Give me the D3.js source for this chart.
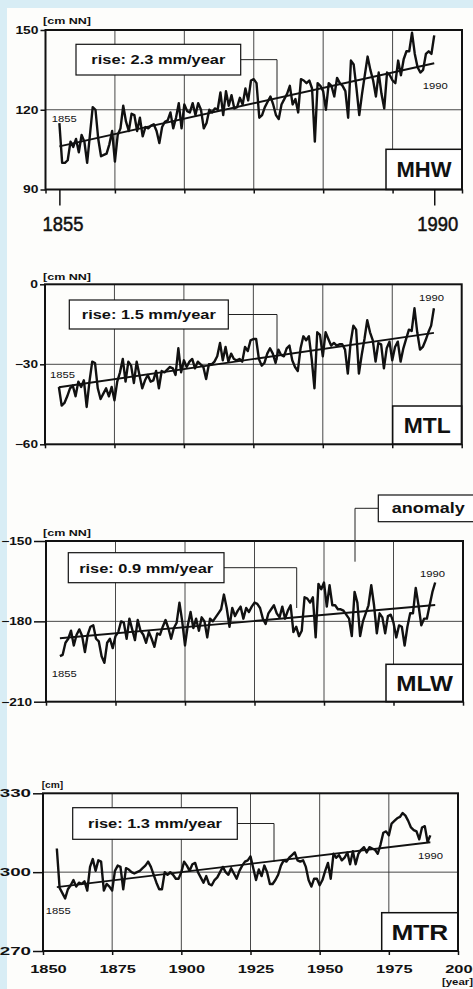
<!DOCTYPE html>
<html>
<head>
<meta charset="utf-8">
<script src="https://cdn.jsdelivr.net/npm/d3@7"></script>
<style>
  body { margin: 0; background: #fff; }
  svg { display: block; font-family: Arial, 'Liberation Sans', Helvetica, sans-serif; }
  .axis text { fill: #111; }
  .axis line { stroke: #111; stroke-width: 1.5; }
</style>
</head>
<body>
<div id="chart-area"></div>
<script>
// Annual values 1855-1990
let years = d3.range(1855, 1991);

let mhw = [
  115, 100, 100, 101, 108, 106, 109, 104, 110.5, 108,        // 1855
  100, 110.5, 121, 120, 109, 102.5, 103, 103.5, 107, 112,    // 1865
  100.5, 110.5, 113, 121.5, 115.5, 112, 118.5, 118, 112, 117, // 1875
  110, 113.5, 113, 114, 114.5, 112, 107.5, 113.5, 115.5, 116, // 1885
  119, 113, 117, 122.5, 113, 122, 119.5, 119, 122.5, 118,    // 1895
  122.5, 120, 113, 115, 120, 119, 120.5, 120, 126.5, 118,    // 1905
  127, 121.5, 125.5, 120.5, 121, 124.5, 122, 128, 123.5, 131, // 1915
  131.5, 130, 117, 118, 121, 123, 125, 122, 118, 116.5,      // 1925
  122, 124, 126, 129, 122, 124, 119, 131.5, 131, 130,        // 1935
  131, 128, 108, 130, 129, 127, 120, 130, 129, 125,          // 1945
  132, 130, 129, 127, 117, 138.5, 137, 128, 118, 126,        // 1955
  133, 140, 135, 131, 125, 134, 126, 120.5, 134, 133,        // 1965
  131, 130, 138.5, 133, 139, 142, 142, 149, 141, 136,        // 1975
  134, 135, 141, 142, 141, 148                               // 1985
];

let mtl = [
  -38.5, -45.5, -44.5, -42, -39, -38, -42, -36.5, -38.5, -36,
  -46, -36.5, -29, -29.5, -39, -43, -41, -39, -42, -38.5,
  -43.5, -36.5, -33, -28, -36.5, -29, -30.5, -37, -29, -34,
  -39, -36, -34, -36.5, -36, -32.5, -39, -32.5, -33, -32,
  -31, -31.5, -34, -24, -33, -28.5, -31, -29, -28, -31.5,
  -29, -30, -31, -35.5, -30, -30, -29, -27, -22, -28.5,
  -23.5, -29, -26, -28, -28.5, -28, -29, -23.5, -25, -21,
  -20.5, -20.5, -28, -30.5, -29.5, -26, -24, -26, -29.5, -24.5,
  -26.5, -27, -24, -23, -28.5, -31, -32.5, -24, -19.5, -21,
  -19.5, -28, -39, -18, -19, -27, -18, -20.5, -23, -22,
  -23, -22.5, -22.5, -24.5, -33.5, -22, -15.5, -17, -33.5, -26.5,
  -20.5, -13.5, -18, -21, -29, -22, -22.5, -31.5, -24, -21.5,
  -28.5, -23.5, -21.5, -29, -24, -20.5, -17, -17.5, -9, -18,
  -24.5, -23.5, -21, -18, -15.5, -9
];

let mlw = [
  -193, -192.5, -188, -186.5, -183.5, -189, -185, -183, -185.5, -191.5,
  -185, -182, -181.5, -186.5, -187.5, -193, -195.5, -188, -186.5, -190,
  -185.5, -184, -180, -180.5, -186.5, -179, -183, -187, -179.5, -183.5,
  -185, -188, -184, -186.5, -189.5, -184.5, -185, -182, -179.5, -182.5,
  -186.5, -182.5, -180.5, -173, -180, -189, -181.5, -176.5, -182.5, -179,
  -183.5, -178.5, -180, -186, -179, -180, -178.5, -177, -175.5, -170,
  -175, -182, -175, -178, -176, -174.5, -179, -175, -176.5, -174.5,
  -173, -173.5, -175, -179, -181, -177, -175.5, -174, -177, -178.5,
  -174.5, -179, -176, -174, -184, -182, -185.5, -183.5, -171, -171.5,
  -173, -171, -186, -166, -168, -165.5, -174.5, -166.5, -174, -174,
  -175.5, -175.5, -176, -177.5, -179, -185.5, -169, -173, -185.5, -180,
  -177, -174, -166.5, -174, -184.5, -177, -178.5, -184.5, -178, -177.5,
  -180.5, -186, -181.5, -182, -189, -182, -177, -177, -167.5, -174,
  -181.5, -179, -179, -174, -169, -165.5
];

let mtr = [
  309, 294, 292, 290, 293.5, 295, 297, 294.5, 296, 295.5,
  296.5, 293, 302, 305, 300.5, 304.5, 304, 293, 295.5, 294.5,
  293, 300.5, 302.5, 302, 293.5, 301.5, 301, 300, 299.5, 300,
  300.5, 301.5, 302.5, 304, 302, 299, 296, 293.5, 293.5, 300,
  299, 300, 299, 297.5, 297.5, 300, 304, 302.5, 300.5, 303,
  303.5, 300, 298, 296, 298.5, 295.5, 295, 297, 298, 300,
  302, 300, 299, 301.5, 299.5, 297.5, 300.5, 302.5, 304, 304.5,
  306, 301.5, 297, 301, 298.5, 302.5, 300, 295.5, 295.5, 297,
  299, 302.5, 304.5, 304, 305.5, 306.5, 307.5, 304.5, 304, 304.5,
  302, 297, 294.5, 297.5, 297.5, 295, 297, 300.5, 303.5, 297.5,
  307, 305.5, 306.5, 304.5, 305.5, 307.5, 303, 308, 303, 307,
  308.5, 309.5, 307.5, 309.5, 309, 308.5, 307, 310.5, 315, 315.5,
  314, 318.5, 319.5, 320.5, 321, 322.5, 321.5, 319.5, 317, 316,
  315.5, 312.5, 317, 317.5, 311.5, 314
];

// linear trend, value at 1855 and at 1990
let trendMhw = [106.2, 137.5];
let trendMtl = [-38.6, -18.2];
let trendMlw = [-186.3, -173.9];
let trendMtr = [294.3, 311.4];

let names = ['MHW', 'MTL', 'MLW', 'MTR'];
let riseLabels = ['rise: 2.3 mm/year', 'rise: 1.5 mm/year', 'rise: 0.9 mm/year', 'rise: 1.3 mm/year'];
let units = ['[cm NN]', '[cm NN]', '[cm NN]', '[cm]'];
let yTicks = [[90, 120, 150], [-60, -30, 0], [-210, -180, -150], [270, 300, 330]];
let xTicks = [1850, 1875, 1900, 1925, 1950, 1975, 2000];
let endYears = [1855, 1990];
let anomalyLabel = 'anomaly';
let xUnit = '[year]';

let series = [mhw, mtl, mlw, mtr];
let trends = [trendMhw, trendMtl, trendMlw, trendMtr];

// Panel placement (pixels)
let layout = [
  { left: 45.5, right: 462, top: 30, bottom: 189.5, tick: 5, font: 10.5, charW: 7.7,
    rise: [76, 44.3, 164.7, 30.7], lead: [277, 110], nameBox: [386, 149.3], nameW: 55,
    lab1855: [51.7, 121.5], lab1990: [422.7, 89.3], unit: [43, 23.5], unitW: 48 },
  { left: 45, right: 461.7, top: 284.3, bottom: 444.3, tick: 5, font: 10.5, charW: 7.7,
    rise: [69.3, 300, 159, 29], lead: [277, 360], nameBox: [392.7, 406], nameW: 47,
    lab1855: [50, 378.3], lab1990: [419, 300.7], unit: [43, 279.5], unitW: 48 },
  { left: 46, right: 463, top: 541, bottom: 701.7, tick: 12, font: 10.5, charW: 7.7,
    rise: [68.3, 552.7, 155.7, 30], lead: [296.7, 608], nameBox: [386, 664.3], nameW: 56.7,
    lab1855: [51.7, 676.7], lab1990: [420, 577.3], unit: [43, 535.5], unitW: 48 },
  { left: 43, right: 458, top: 793.3, bottom: 951, tick: 10, font: 11, charW: 10.4,
    rise: [72.7, 807.7, 164.6, 31.6], lead: [274, 861.7], nameBox: [381.7, 912.7], nameW: 56.7,
    lab1855: [45.7, 914], lab1990: [418, 859.3], unit: [41.7, 788], unitW: 21.5 }
];

let width = 473,
  height = 989;

let svg = d3
  .select('#chart-area')
  .append('svg')
  .attr('width', width)
  .attr('height', height);

// scanned page on light blue background
svg.append('rect').attr('width', width).attr('height', height).attr('fill', '#d8edf5');
svg.append('rect')
  .attr('x', 7)
  .attr('y', 8)
  .attr('width', width - 7)
  .attr('height', height - 8)
  .attr('fill', '#fdfdfb');

function label(sel, str, x, y, size, weight, anchor, len) {
  return sel
    .append('text')
    .attr('x', x)
    .attr('y', y)
    .attr('font-size', size)
    .attr('font-weight', weight)
    .attr('text-anchor', anchor)
    .attr('textLength', len)
    .attr('lengthAdjust', 'spacingAndGlyphs')
    .attr('fill', '#111')
    .text(str);
}

function drawPanel(i) {
  let p = layout[i];
  let x = d3.scaleLinear().domain([1850, 2000]).range([p.left, p.right]);
  let y = d3.scaleLinear().domain([yTicks[i][0], yTicks[i][2]]).range([p.bottom, p.top]);
  let g = svg.append('g');

  // grid
  g.selectAll('.vgrid')
    .data(xTicks.slice(1, -1))
    .enter()
    .append('line')
    .attr('x1', d => x(d))
    .attr('x2', d => x(d))
    .attr('y1', p.top)
    .attr('y2', p.bottom)
    .attr('stroke', '#333')
    .attr('stroke-width', 0.9);
  g.append('line')
    .attr('x1', p.left)
    .attr('x2', p.right)
    .attr('y1', y(yTicks[i][1]))
    .attr('y2', y(yTicks[i][1]))
    .attr('stroke', '#333')
    .attr('stroke-width', 0.9);

  // leader line + rise box
  let r = p.rise;
  g.append('path')
    .attr('d', 'M' + (r[0] + r[2]) + ',' + (r[1] + r[3] / 2) + 'H' + p.lead[0] + 'V' + p.lead[1])
    .attr('fill', 'none')
    .attr('stroke', '#222')
    .attr('stroke-width', 1);

  // annual series
  let line = d3.line()
    .x((d, j) => x(years[j]))
    .y(d => y(d));
  g.append('path')
    .datum(series[i])
    .attr('d', line)
    .attr('fill', 'none')
    .attr('stroke', '#111')
    .attr('stroke-width', 2.4)
    .attr('stroke-linejoin', 'round');

  // trend
  g.append('line')
    .attr('x1', x(endYears[0]))
    .attr('y1', y(trends[i][0]))
    .attr('x2', x(endYears[1]))
    .attr('y2', y(trends[i][1]))
    .attr('stroke', '#111')
    .attr('stroke-width', 1.9);

  g.append('rect')
    .attr('x', r[0])
    .attr('y', r[1])
    .attr('width', r[2])
    .attr('height', r[3])
    .attr('fill', '#fff')
    .attr('stroke', '#111')
    .attr('stroke-width', 1.2);
  label(g, riseLabels[i], r[0] + r[2] / 2, r[1] + r[3] / 2 + 4.8, 13.5, 'bold', 'middle', 134);

  // name box
  let nb = p.nameBox;
  g.append('rect')
    .attr('x', nb[0])
    .attr('y', nb[1])
    .attr('width', p.right - nb[0])
    .attr('height', p.bottom - nb[1])
    .attr('fill', '#fff')
    .attr('stroke', '#111')
    .attr('stroke-width', 1.5);
  label(g, names[i], (nb[0] + p.right) / 2, (nb[1] + p.bottom) / 2 + 8, 22, 'bold', 'middle', p.nameW);

  // frame
  g.append('rect')
    .attr('x', p.left)
    .attr('y', p.top)
    .attr('width', p.right - p.left)
    .attr('height', p.bottom - p.top)
    .attr('fill', 'none')
    .attr('stroke', '#111')
    .attr('stroke-width', 2);

  // axes
  let yAxis = d3.axisLeft(y).tickValues(yTicks[i]).tickSize(p.tick).tickPadding(2).tickFormat(d3.format('d'));
  let ySvg = g.append('g')
    .attr('class', 'axis')
    .attr('transform', 'translate(' + p.left + ',0)')
    .call(yAxis);
  ySvg.select('.domain').remove();
  ySvg.selectAll('text')
    .attr('font-size', p.font)
    .attr('font-weight', 'bold')
    .attr('textLength', d => String(d).length * p.charW)
    .attr('lengthAdjust', 'spacingAndGlyphs');

  let xAxis = d3.axisBottom(x)
    .tickValues(xTicks)
    .tickSize(4)
    .tickPadding(11)
    .tickFormat(i === 3 ? d3.format('d') : '');
  let xSvg = g.append('g')
    .attr('class', 'axis')
    .attr('transform', 'translate(0,' + p.bottom + ')')
    .call(xAxis);
  xSvg.select('.domain').remove();
  xSvg.selectAll('text')
    .attr('dx', 5)
    .attr('font-size', 10.5)
    .attr('font-weight', 'bold')
    .attr('textLength', 36.5)
    .attr('lengthAdjust', 'spacingAndGlyphs');

  if (i === 0) {
    let endAxis = d3.axisBottom(x)
      .tickValues(endYears)
      .tickSize(16)
      .tickPadding(11)
      .tickFormat(d3.format('d'));
    let eSvg = g.append('g')
      .attr('class', 'axis')
      .attr('transform', 'translate(0,' + p.bottom + ')')
      .call(endAxis);
    eSvg.select('.domain').remove();
    eSvg.selectAll('text')
      .attr('dx', 3)
      .attr('font-size', 20)
      .attr('stroke', '#111')
      .attr('stroke-width', 0.5)
      .attr('textLength', 41)
      .attr('lengthAdjust', 'spacingAndGlyphs');
  }

  // small labels
  label(g, String(endYears[0]), p.lab1855[0], p.lab1855[1], 9, 'normal', 'start', 25);
  label(g, String(endYears[1]), p.lab1990[0], p.lab1990[1], 9, 'normal', 'start', 25);
  label(g, units[i], p.unit[0], p.unit[1], 9.5, 'bold', 'start', p.unitW);

  if (i === 2) {
    g.append('path')
      .attr('d', 'M378.3,508.3H355V561.7')
      .attr('fill', 'none')
      .attr('stroke', '#222')
      .attr('stroke-width', 1);
    g.append('rect')
      .attr('x', 378.3)
      .attr('y', 495)
      .attr('width', 100)
      .attr('height', 26.7)
      .attr('fill', '#fff')
      .attr('stroke', '#111')
      .attr('stroke-width', 1.2);
    label(g, anomalyLabel, 428.3, 513.3, 15, 'bold', 'middle', 73);
  }
  if (i === 3) {
    label(g, xUnit, 473, 985, 9.5, 'bold', 'end', 31);
  }
}

layout.forEach((p, i) => drawPanel(i));
</script>
</body>
</html>
